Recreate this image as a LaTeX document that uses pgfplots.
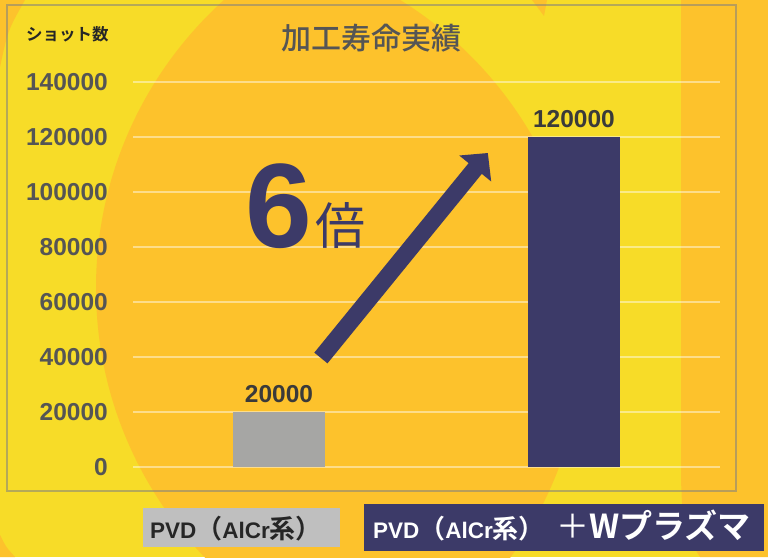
\documentclass[border=0pt]{standalone}
\usepackage{fontspec}
\usepackage{pgfplots}
\pgfplotsset{compat=1.18}
\usetikzlibrary{arrows.meta}
\setmainfont{Liberation Sans}
\newfontfamily\jp{Noto Sans CJK JP}[BoldFont={* Bold}]
\IfFontExistsTF{Noto Sans CJK JP Medium}
  {\newfontfamily\jpm{Noto Sans CJK JP Medium}}
  {\newfontfamily\jpm{Noto Sans CJK JP}}

\definecolor{yel}{RGB}{247,220,40}
\definecolor{org}{RGB}{253,194,44}
\definecolor{navy}{RGB}{60,58,104}
\definecolor{barg}{RGB}{166,166,164}
\definecolor{boxg}{RGB}{191,191,191}
\definecolor{tickc}{RGB}{85,85,85}
\definecolor{lblc}{RGB}{58,58,58}

\begin{document}
\begin{tikzpicture}[x=1pt,y=1pt]
% background
\begin{scope}
\clip (0,0) rectangle (768,557);
\fill[yel] (0,0) rectangle (768,557);
\begin{scope}
\clip (484,269) circle (388);
\fill[org] (196,227) circle (388);
\end{scope}
\fill[org] (0,557) -- (0,490) .. controls (8,527) .. (25,557) -- cycle;
\fill[org] (0,0) -- (0,22) .. controls (6,10) .. (15,0) -- cycle;
\fill[org] (681,557) -- (681,77) .. controls (683,27) .. (700,0) -- (768,0) -- (768,557) -- cycle;
\fill[org] (532,557) -- (547,557) -- (544,541) -- cycle;
\end{scope}
\draw[gray, opacity=0.55, line width=2pt] (7,66) rectangle (736,552);

\begin{axis}[
  at={(133pt,90pt)}, anchor=south west,
  width=587pt, height=385pt, scale only axis,
  xmin=-0.495, xmax=1.495, ymin=0, ymax=140000,
  ybar, bar width=92pt, bar shift=0pt,
  xtick=\empty, ytick={0,20000,...,140000},
  scaled y ticks=false,
  /pgf/number format/fixed,
  /pgf/number format/1000 sep={},
  axis line style={draw=none}, major tick length=0pt,
  ymajorgrids, grid style={white, opacity=0.45, line width=1.5pt},
  yticklabel style={font=\fontsize{24.5}{25}\selectfont\bfseries, text=tickc,
    anchor=east, inner sep=0pt, xshift=-25pt},
  yticklabel={\pgfmathprintnumber[assume math mode=true]{\tick}},
  nodes near coords={\pgfmathprintnumber[assume math mode=true]{\pgfplotspointmeta}},
  nodes near coords style={font=\fontsize{24.5}{25}\selectfont\bfseries, text=lblc,
    anchor=base, inner sep=0pt, yshift=9pt},
  clip=false,
]
\addplot[fill=barg, draw=none] coordinates {(0,20000)};
\addplot[fill=navy, draw=none] coordinates {(1,120000)};

\draw[navy, line width=17pt, -{Triangle[width=40pt,length=20pt]}]
  (axis cs:0.142,39636) -- (axis cs:0.708,114182);
\node[anchor=base, text=navy, inner sep=0pt,
  font=\fontsize{120}{120}\selectfont\bfseries] at (axis cs:0,79636) {6};
\node[anchor=base, text=navy, inner sep=0pt,
  font=\jp\fontsize{50}{50}\selectfont] at (axis cs:0.207,80727) {倍};
\end{axis}

% titles
\node[anchor=base, inner sep=0pt, text=tickc, font=\jpm\fontsize{30}{30}\selectfont]
  at (371,507) {加工寿命実績};
\node[anchor=base west, inner sep=0pt, text=black!85, font=\jp\fontsize{16.5}{17}\selectfont\bfseries]
  at (26,516) {ショット数};

% category boxes
\newcommand{\cj}[1]{{\jp\fontsize{26}{26}\selectfont #1}}
\fill[boxg] (143,10) rectangle (340,49);
\node[anchor=base west, inner sep=0pt, text=black!85, font=\fontsize{22.5}{23}\selectfont\bfseries]
  at (150,19) {PVD\cj{（}AlCr\cj{系）}};
\fill[navy] (364,6) rectangle (764,53);
\node[anchor=base west, inner sep=0pt, text=white, font=\fontsize{22.5}{23}\selectfont\bfseries]
  at (373,19) {PVD\cj{（}AlCr\cj{系）}};
\node[anchor=base west, inner sep=0pt, text=white, font=\jp\fontsize{33}{33}\selectfont\bfseries]
  at (556,19) {{\mdseries ＋}Wプラズマ};

\pgfresetboundingbox
\useasboundingbox (0,0) rectangle (768,557);
\end{tikzpicture}
\end{document}
